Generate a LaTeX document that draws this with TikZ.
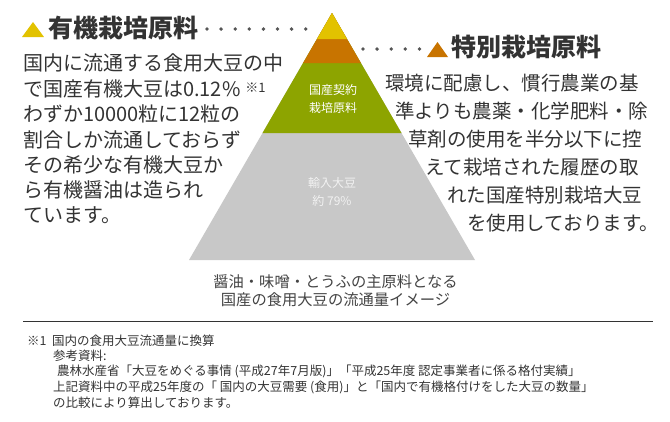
\documentclass[tikz,border=0pt]{standalone}
\usepackage{fontspec}
\setmainfont{Noto Sans CJK JP}
\definecolor{inkgray}{RGB}{51,51,51}
\definecolor{dotgray}{RGB}{85,85,85}
\tikzset{
  bodytext/.style={anchor=west, inner sep=0pt, text=inkgray, font=\fontsize{20}{20}\selectfont},
  ritext/.style={bodytext, font=\fontsize{19.5}{19.5}\selectfont},
  titletext/.style={anchor=west, inner sep=0pt, text=inkgray, font=\fontsize{25}{25}\selectfont\bfseries},
  inlabel/.style={align=center, inner sep=0pt, text=white, font=\fontsize{12}{18}\selectfont},
  notetext/.style={anchor=west, inner sep=0pt, text=inkgray, font=\fontsize{12.5}{12.5}\selectfont},
  leader/.style={draw=dotgray, line width=3.8pt, line cap=round, dash pattern=on 0pt off 14.1pt}
}
\begin{document}
\begin{tikzpicture}[x=1pt,y=-1pt]
\useasboundingbox (0,0) rectangle (670,421);
% pyramid, biggest first
\fill[fill={rgb,255:red,200; green,200; blue,200}] (332,13) -- (475,260) -- (189,260) -- cycle;
\fill[fill={rgb,255:red,141; green,164; blue,0}] (332,13) -- (401.5,133) -- (262.5,133) -- cycle;
\fill[fill={rgb,255:red,200; green,116; blue,0}] (332,13) -- (360.9,63) -- (303.1,63) -- cycle;
\fill[fill={rgb,255:red,226; green,194; blue,0}] (332,13) -- (347,39) -- (317,39) -- cycle;
\node[inlabel] (contract) at (333,99) {国産契約\\栽培原料};
\node[inlabel, text={rgb,255:red,242; green,242; blue,242}] (imported) at (332,192) {輸入大豆\\約 79\%};
\node[align=center, inner sep=0pt, text={rgb,255:red,68; green,68; blue,68}, font=\fontsize{15.3}{18}\selectfont] (caption) at (335.5,291) {醤油・味噌・とうふの主原料となる\\国産の食用大豆の流通量イメージ};

% organic side
\fill[fill={rgb,255:red,226; green,194; blue,0}] (33,22) -- (44,37) -- (22,37) -- cycle;
\node[titletext] (orgtitle) at (48,28) {有機栽培原料};
\coordinate (orgdots) at (207,29);
\coordinate (yellowtip) at (306,29);
\draw[leader] (orgdots) -- (yellowtip);
\node[bodytext] (org1) at (23,63) {国内に流通する食用大豆の中};
\node[bodytext] (org2) at (23,88.5) {で国産有機大豆は0.12\%\hspace{5pt}\raisebox{4pt}{\fontsize{13}{13}\selectfont ※1}};
\node[bodytext] (org3) at (23,114) {わずか10000粒に12粒の};
\node[bodytext] (org4) at (23,139.5) {割合しか流通しておらず};
\node[bodytext] (org5) at (23,165) {その希少な有機大豆か};
\node[bodytext] (org6) at (23,190) {ら有機醤油は造られ};
\node[bodytext] (org7) at (23,215) {ています。};

% special side
\coordinate (orangetip) at (363,49);
\coordinate (spcdots) at (419.5,49);
\draw[leader] (orangetip) -- (spcdots);
\fill[fill={rgb,255:red,200; green,116; blue,0}] (437.5,42) -- (448,57) -- (427,57) -- cycle;
\node[titletext] (spctitle) at (451,47) {特別栽培原料};
\node[ritext] (spc1) at (385,83) {環境に配慮し、慣行農業の基};
\node[ritext] (spc2) at (395,111) {準よりも農薬・化学肥料・除};
\node[ritext] (spc3) at (408,139) {草剤の使用を半分以下に控};
\node[ritext] (spc4) at (425,167) {えて栽培された履歴の取};
\node[ritext] (spc5) at (447,195) {れた国産特別栽培大豆};
\node[ritext] (spc6) at (467,223) {を使用しております。};

% footnote
\draw[draw=inkgray, line width=1pt] (23,321) -- (653,321);
\node[notetext] (mark) at (27,340.5) {※1};
\node[notetext] (note1) at (52,340.5) {国内の食用大豆流通量に換算};
\node[notetext] (note2) at (53,355.5) {参考資料:};
\node[notetext] (note3) at (57,371) {農林水産省「大豆をめぐる事情 (平成27年7月版)」「平成25年度 認定事業者に係る格付実績」};
\node[notetext] (note4) at (53,387) {上記資料中の平成25年度の「 国内の大豆需要 (食用)」と「国内で有機格付けをした大豆の数量」};
\node[notetext] (note5) at (53,402.5) {の比較により算出しております。};
\end{tikzpicture}
\end{document}
